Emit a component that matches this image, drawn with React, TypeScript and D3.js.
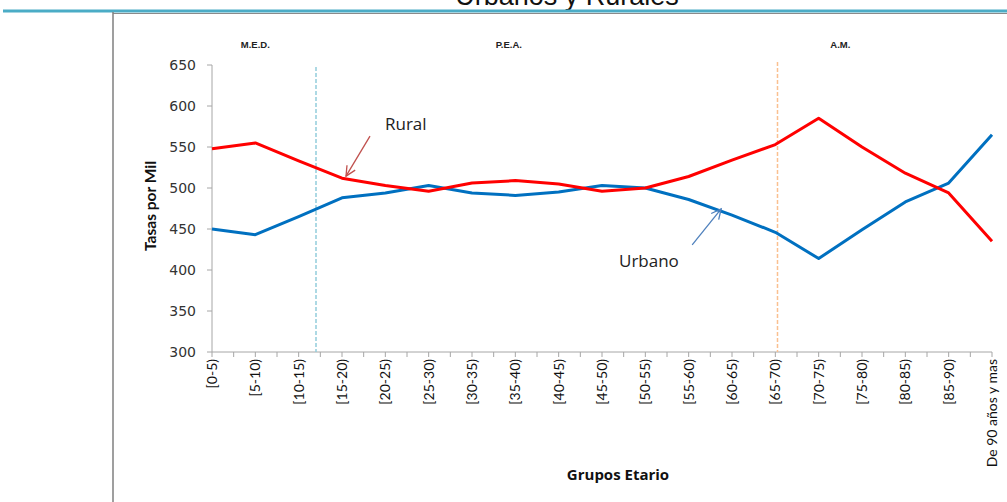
import React from "react";
import * as d3 from "d3";

const categories = [
  "[0-5)", "[5-10)", "[10-15)", "[15-20)", "[20-25)", "[25-30)", "[30-35)",
  "[35-40)", "[40-45)", "[45-50)", "[50-55)", "[55-60)", "[60-65)", "[65-70)",
  "[70-75)", "[75-80)", "[80-85)", "[85-90)", "De 90 años y mas",
];
const rural = [548, 555, 533, 512, 503, 496, 506, 509, 505, 496, 500, 514, 534, 553, 585, 550, 518, 494, 435];
const urbano = [450, 443, 465, 488, 494, 503, 494, 491, 495, 503, 500, 486, 467, 446, 414, 449, 483, 506, 565];
const yTicks = [300, 350, 400, 450, 500, 550, 600, 650];
const sections = [
  { label: "M.E.D.", at: 1 },
  { label: "P.E.A.", at: 6.85 },
  { label: "A.M.", at: 14.5 },
];
const dividers = [
  { at: 2.4, color: "#92CDDC" },
  { at: 13.05, color: "#FAC090" },
];

export default function App() {
  const W = 1007, H = 502;
  const left = 212, right = 992, top = 65, bottom = 352;
  const x = d3.scaleLinear().domain([0, categories.length - 1]).range([left, right]);
  const y = d3.scaleLinear().domain([300, 650]).range([bottom, top]);
  const line = d3.line<number>().x((_, i) => x(i)).y((d) => y(d));
  const halfTicks = d3.range(0, categories.length - 0.5 + 0.01, 0.5);

  // annotation anchors derived from data
  const rTipX = x(3) + 4, rTipY = y(rural[3]) - 2;
  const rTailX = rTipX + 24, rTailY = rTipY - 40;
  const uTipX = x(11.75), uTipY = y((urbano[11] + urbano[12]) / 2 + 3) + 4;
  const uTailX = uTipX - 29, uTailY = uTipY + 36;

  const arrowHead = (tx: number, ty: number, fx: number, fy: number) => {
    const a = Math.atan2(ty - fy, tx - fx);
    const l = 11, s = 0.45;
    const p1 = [tx - l * Math.cos(a - s), ty - l * Math.sin(a - s)];
    const p2 = [tx - l * Math.cos(a + s), ty - l * Math.sin(a + s)];
    return `M${p1[0]},${p1[1]}L${tx},${ty}L${p2[0]},${p2[1]}`;
  };

  return (
    <svg width={W} height={H} style={{ position: "absolute", left: 0, top: 0, background: "#fff" }}>
      <rect width={W} height={H} fill="#fff" />
      {/* slide decoration */}
      <text x={567} y={5} textAnchor="middle" fontFamily="Liberation Sans, Arial" fontSize={27} fill="#111">
        Urbanos y Rurales
      </text>
      <line x1={113} x2={W} y1={13.5} y2={13.5} stroke="#8a8a8a" strokeWidth={1} />
      <line x1={3} x2={W} y1={11} y2={11} stroke="#4BACC6" strokeWidth={3} />
      <line x1={113} x2={113} y1={12} y2={H} stroke="#7f7f7f" strokeWidth={1.5} />

      {/* section labels */}
      {sections.map((s) => (
        <text key={s.label} x={x(s.at)} y={48} textAnchor="middle" fontFamily="Liberation Sans Narrow, Liberation Sans, Arial" fontWeight="bold" fontSize={9.5} fill="#222">
          {s.label}
        </text>
      ))}

      {/* axes */}
      <line x1={left} x2={left} y1={top} y2={bottom} stroke="#a6a6a6" strokeWidth={1} />
      <line x1={left} x2={right} y1={bottom} y2={bottom} stroke="#a6a6a6" strokeWidth={1} />
      {yTicks.map((t) => (
        <g key={t}>
          <line x1={left - 5} x2={left} y1={y(t)} y2={y(t)} stroke="#a6a6a6" />
          <text x={left - 16} y={y(t)} dy="0.35em" textAnchor="end" fontFamily="DejaVu Sans" fontSize={14} fill="#333">
            {t}
          </text>
        </g>
      ))}
      {halfTicks.map((t) => (
        <line key={t} x1={x(t)} x2={x(t)} y1={bottom} y2={bottom + 5} stroke="#a6a6a6" />
      ))}
      {categories.map((c, i) => (
        <text key={c} transform={`translate(${x(i) + 5},${bottom + 7}) rotate(-90)`} textAnchor="end" fontFamily="Lato" fontSize={14} fill="#111">
          {c}
        </text>
      ))}

      {/* dividers */}
      {dividers.map((d) => (
        <line key={d.at} x1={x(d.at)} x2={x(d.at)} y1={d.at < 5 ? 67 : 62} y2={bottom} stroke={d.color} strokeWidth={1.5} strokeDasharray="4,2" />
      ))}

      {/* series */}
      <path d={line(urbano) || ""} fill="none" stroke="#0070C0" strokeWidth={3} strokeLinejoin="round" />
      <path d={line(rural) || ""} fill="none" stroke="#FF0000" strokeWidth={3} strokeLinejoin="round" />

      {/* annotations */}
      <text x={385} y={130} fontFamily="Open Sans" fontSize={17} fill="#222">Rural</text>
      <line x1={rTailX} y1={rTailY} x2={rTipX} y2={rTipY} stroke="#C0504D" strokeWidth={1.3} />
      <path d={arrowHead(rTipX, rTipY, rTailX, rTailY)} fill="none" stroke="#C0504D" strokeWidth={1.3} />
      <text x={619} y={267} fontFamily="Open Sans" fontSize={17} fill="#222">Urbano</text>
      <line x1={uTailX} y1={uTailY} x2={uTipX} y2={uTipY} stroke="#4F81BD" strokeWidth={1.3} />
      <path d={arrowHead(uTipX, uTipY, uTailX, uTailY)} fill="none" stroke="#4F81BD" strokeWidth={1.3} />

      {/* axis titles */}
      <text transform={`translate(156,206) rotate(-90)`} textAnchor="middle" fontFamily="Lato" fontWeight="bold" fontSize={15.5} fill="#111">
        Tasas por Mil
      </text>
      <text x={618} y={480} textAnchor="middle" fontFamily="Open Sans" fontWeight="bold" fontSize={15} fill="#111">
        Grupos Etario
      </text>
    </svg>
  );
}
